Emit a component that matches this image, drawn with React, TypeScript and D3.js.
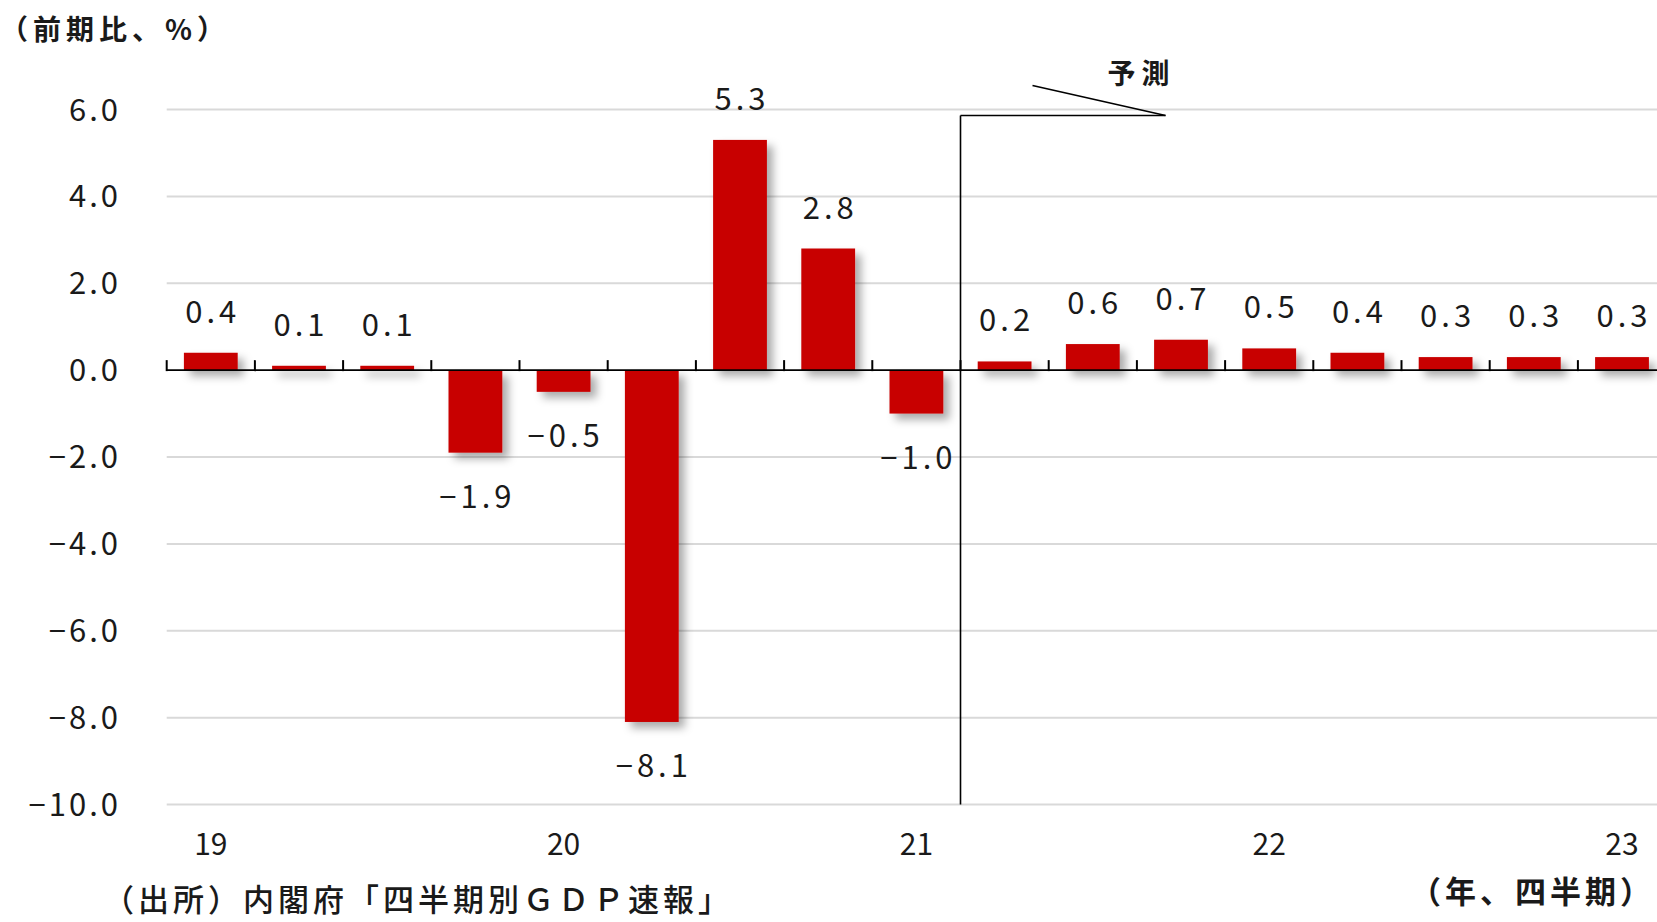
import React from "react";
import * as d3 from "d3";

// Quarterly real GDP growth (q/q, %), 2019Q1 – 2023Q1; forecast from 2021Q2
const quarters = [
  "2019Q1", "2019Q2", "2019Q3", "2019Q4",
  "2020Q1", "2020Q2", "2020Q3", "2020Q4",
  "2021Q1", "2021Q2", "2021Q3", "2021Q4",
  "2022Q1", "2022Q2", "2022Q3", "2022Q4",
  "2023Q1",
];
const growth = [0.4, 0.1, 0.1, -1.9, -0.5, -8.1, 5.3, 2.8, -1.0, 0.2, 0.6, 0.7, 0.5, 0.4, 0.3, 0.3, 0.3];
const yearLabels = ["19", "20", "21", "22", "23"];
const yearQuarters = ["2019Q1", "2020Q1", "2021Q1", "2022Q1", "2023Q1"];
const yTicks = [6, 4, 2, 0, -2, -4, -6, -8, -10];
const forecastStart = "2021Q2";

const W = 1657;
const H = 922;
const FONT = "'Noto Sans CJK JP', 'Noto Sans', sans-serif";
const BAR = "#c80000";
const INK = "#1a1a1a";

export default function App() {
  const plotLeft = 166.7;
  const step = 88.2;
  const x = d3
    .scaleBand<string>()
    .domain(quarters)
    .range([plotLeft, plotLeft + step * quarters.length])
    .paddingInner(0.39)
    .paddingOuter(0.195);
  const y = d3.scaleLinear().domain([-10, 6]).range([804.5, 109.5]);
  const y0 = y(0);
  const bw = x.bandwidth();
  const gap = x.step() - bw;
  const fmt = d3.format(".1f");

  const boundary = (q: string) => (x(q) as number) - gap / 2;
  const fx = boundary(forecastStart);
  const bracketY = y(6) + 6;

  return (
    <svg
      width={W}
      height={H}
      style={{ position: "absolute", left: 0, top: 0, background: "#fff" }}
      fontFamily={FONT}
    >
      <defs>
        <filter id="barShadow" x="-30%" y="-30%" width="170%" height="170%">
          <feDropShadow dx="6" dy="6" stdDeviation="4" floodColor="#000" floodOpacity="0.33" />
        </filter>
      </defs>
      <rect width={W} height={H} fill="#fff" />

      {/* unit label */}
      <text x={0} y={40} fontSize={28} fontWeight={700} letterSpacing={5} fill={INK}>
        （前期比、%）
      </text>

      {/* horizontal gridlines */}
      {yTicks
        .filter((t) => t !== 0)
        .map((t) => (
          <line key={t} x1={plotLeft} x2={W} y1={y(t)} y2={y(t)} stroke="#d9d9d9" strokeWidth={2} />
        ))}

      {/* y tick labels */}
      {yTicks.map((t) => (
        <text
          key={t}
          x={121}
          y={y(t) + 11}
          fontSize={31}
          letterSpacing={3}
          textAnchor="end"
          fill={INK}
        >
          {fmt(t)}
        </text>
      ))}

      {/* bars */}
      <g filter="url(#barShadow)">
        {growth.map((v, i) => (
          <rect
            key={quarters[i]}
            x={x(quarters[i])}
            y={Math.min(y(v), y0)}
            width={bw}
            height={Math.abs(y(v) - y0)}
            fill={BAR}
          />
        ))}
      </g>

      {/* zero axis with quarter ticks */}
      <line x1={plotLeft} x2={W} y1={y0} y2={y0} stroke="#000" strokeWidth={1.6} />
      {quarters.map((q) => (
        <line
          key={q}
          x1={boundary(q)}
          x2={boundary(q)}
          y1={y0 - 10}
          y2={y0 + 1}
          stroke="#000"
          strokeWidth={2}
        />
      ))}

      {/* value labels */}
      {growth.map((v, i) => {
        const cx = (x(quarters[i]) as number) + bw / 2 + 2;
        const ty = v >= 0 ? y(v) - 30 : y(v) + 55;
        return (
          <text
            key={quarters[i]}
            x={cx}
            y={ty}
            fontSize={31}
            letterSpacing={4}
            textAnchor="middle"
            fill={INK}
          >
            {fmt(v)}
          </text>
        );
      })}

      {/* year labels */}
      {yearLabels.map((lab, i) => (
        <text
          key={lab}
          x={(x(yearQuarters[i]) as number) + bw / 2}
          y={855}
          fontSize={30}
          textAnchor="middle"
          fill={INK}
        >
          {lab}
        </text>
      ))}

      {/* forecast bracket */}
      <g stroke="#000" strokeWidth={1.6} fill="none">
        <line x1={fx} x2={fx} y1={y(-10)} y2={bracketY} />
        <line x1={fx} x2={fx + 205} y1={bracketY} y2={bracketY} />
        <line x1={fx + 72} y1={bracketY - 30} x2={fx + 205} y2={bracketY} />
      </g>
      <text x={fx + 147} y={84} fontSize={28} fontWeight={700} letterSpacing={6} fill={INK}>
        予測
      </text>

      {/* axis caption and source */}
      <text x={1410} y={903} fontSize={31} fontWeight={700} letterSpacing={4} fill={INK}>
        （年、四半期）
      </text>
      <text x={103} y={911} fontSize={31} fontWeight={500} letterSpacing={4} fill={INK}>
        （出所）内閣府「四半期別ＧＤＰ速報」
      </text>
    </svg>
  );
}
